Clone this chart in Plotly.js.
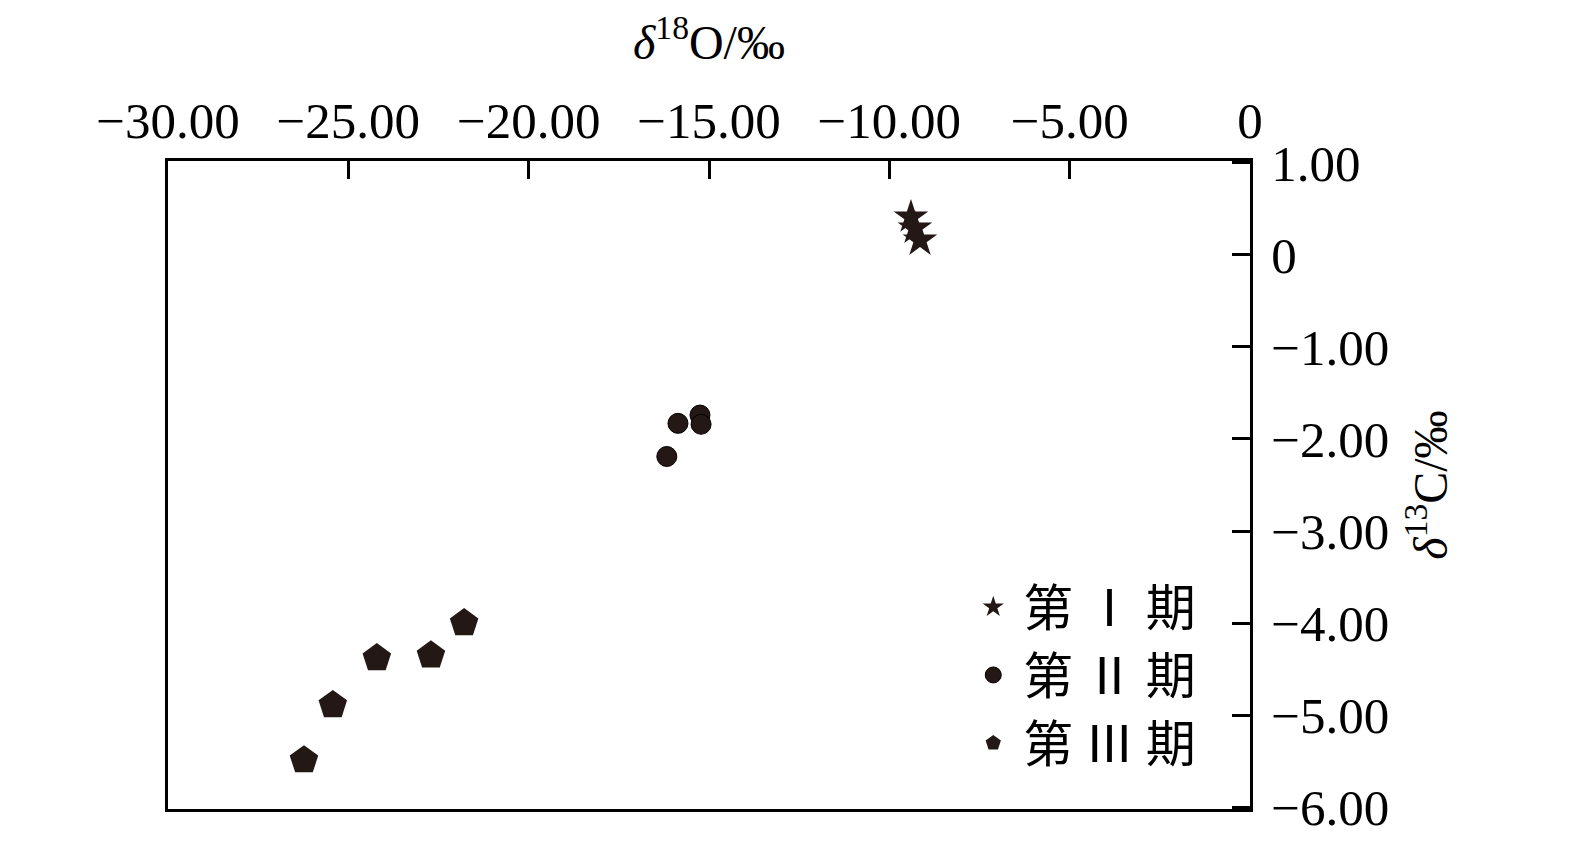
<!DOCTYPE html>
<html>
<head>
<meta charset="utf-8">
<script src="https://cdn.plot.ly/plotly-3.0.1.min.js"></script>
<style>
  html, body { margin: 0; padding: 0; background: #fff; }
  #chart { width: 1575px; height: 843px; }
</style>
</head>
<body>
<div id="chart"></div>
<script>
// delta 18O (x) and delta 13C (y), per period
const stage1X = [-9.40, -9.29, -9.15];
const stage1Y = [0.41, 0.29, 0.16];
const stage2X = [-15.86, -15.25, -15.22, -16.17];
const stage2Y = [-1.83, -1.74, -1.84, -2.19];
const stage3X = [-26.23, -25.43, -24.21, -22.71, -21.79];
const stage3Y = [-5.49, -4.89, -4.38, -4.35, -4.00];

const seriesNames = ["第 Ⅰ 期", "第 Ⅱ 期", "第 Ⅲ 期"];

const xTickVals = [-30, -25, -20, -15, -10, -5, 0];
const xTickText = ["−30.00", "−25.00", "−20.00", "−15.00", "−10.00", "−5.00", "0"];
const yTickVals = [1, 0, -1, -2, -3, -4, -5, -6];
const yTickText = ["1.00", "0", "−1.00", "−2.00", "−3.00", "−4.00", "−5.00", "−6.00"];

const ink = "#231815";

const data = [
  {
    x: stage1X, y: stage1Y, name: seriesNames[0],
    type: "scatter", mode: "markers",
    marker: { symbol: "star", size: 26, color: ink, line: { width: 0 } },
  },
  {
    x: stage2X, y: stage2Y, name: seriesNames[1],
    type: "scatter", mode: "markers",
    marker: { symbol: "circle", size: 20, color: ink, line: { width: 1, color: "#000" } },
  },
  {
    x: stage3X, y: stage3Y, name: seriesNames[2],
    type: "scatter", mode: "markers",
    marker: { symbol: "pentagon", size: 30, color: ink, line: { width: 0 } },
  },
];

const serif = "Liberation Serif, Times New Roman, serif";
const axisFont = { family: serif, size: 51, color: "#000" };
const titleFont = { family: serif, size: 48, color: "#000" };

const layout = {
  width: 1575,
  height: 843,
  paper_bgcolor: "#fff",
  plot_bgcolor: "#fff",
  margin: { l: 168, r: 325, t: 161, b: 34 },
  showlegend: true,
  legend: {
    x: 0.735, y: 0.372, xanchor: "left", yanchor: "top",
    font: { family: "Noto Sans CJK SC", size: 50, color: "#000" },
    bgcolor: "rgba(0,0,0,0)",
    itemwidth: 50,
    tracegroupgap: 0,
  },
  xaxis: {
    side: "top",
    range: [-30, 0],
    tickmode: "array",
    tickvals: xTickVals,
    ticktext: xTickText,
    ticks: "inside",
    ticklen: 18,
    tickwidth: 3,
    tickcolor: "#000",
    showline: true,
    linewidth: 3,
    linecolor: "#000",
    mirror: true,
    showgrid: false,
    zeroline: false,
    tickfont: axisFont,
    title: { text: "<i>δ</i><sup>18</sup>O/‰", font: titleFont, standoff: 18 },
  },
  yaxis: {
    side: "right",
    range: [-6.02, 1.02],
    tickmode: "array",
    tickvals: yTickVals,
    ticktext: yTickText,
    ticks: "inside",
    ticklen: 18,
    tickwidth: 3,
    tickcolor: "#000",
    ticklabelstandoff: 8,
    showline: true,
    linewidth: 3,
    linecolor: "#000",
    mirror: true,
    showgrid: false,
    zeroline: false,
    tickfont: axisFont,
    title: { text: "<i>δ</i><sup>13</sup>C/‰", font: titleFont, standoff: 26 },
  },
};

Plotly.newPlot("chart", data, layout, { displayModeBar: false, staticPlot: true });
</script>
</body>
</html>
